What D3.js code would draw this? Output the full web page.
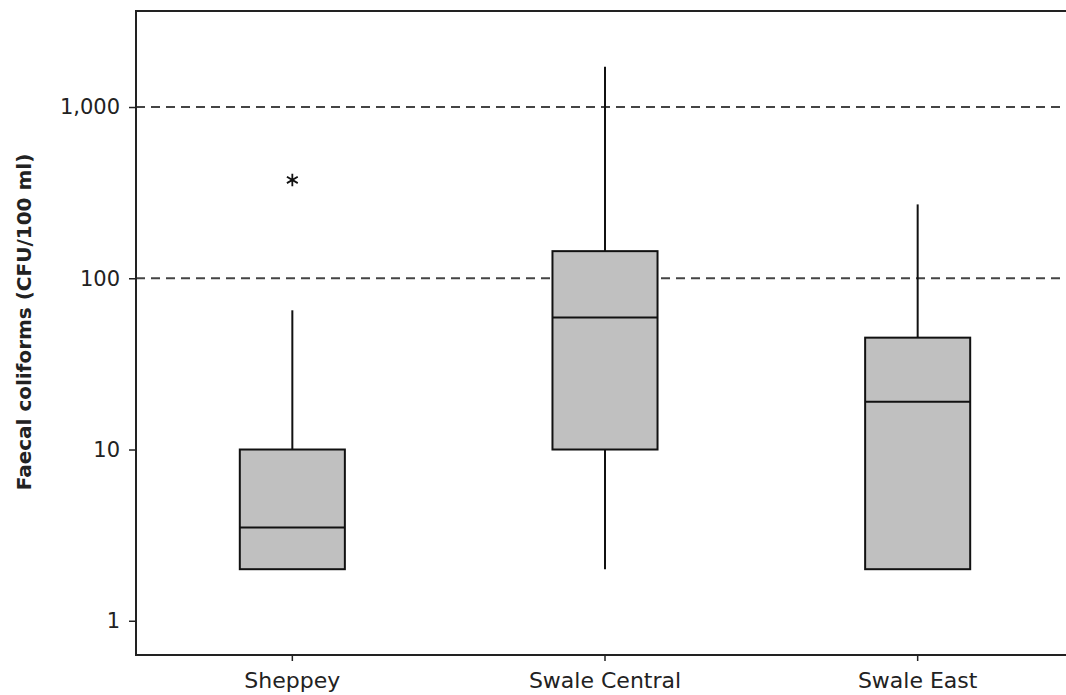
<!DOCTYPE html>
<html>
<head>
<meta charset="utf-8">
<script src="https://cdn.jsdelivr.net/npm/d3@7"></script>
<style>
  html, body { margin: 0; padding: 0; background: #fff; overflow: hidden; }
  svg { display: block; }
  text { font-family: "DejaVu Sans", Verdana, sans-serif; fill: #222; }
</style>
</head>
<body>
<svg id="chart" width="1066" height="695"></svg>
<script>
// Faecal coliform counts by site (CFU/100 ml), box-plot summaries
const sites = ["Sheppey", "Swale Central", "Swale East"];
const whiskerLow = [2, 2, 2];
const q1 = [2, 10, 2];
const median = [3.5, 59, 19];
const q3 = [10, 144, 45];
const whiskerHigh = [65, 1720, 270];
const outlierSites = ["Sheppey"];
const outlierValues = [375];
const guideValues = [100, 1000];
const yTickValues = [1, 10, 100, 1000];

const W = 1066, H = 695;
const plot = { left: 136, right: 1074, top: 11, bottom: 655 };

const svg = d3.select("#chart");

const x = d3.scaleBand()
  .domain(sites)
  .range([plot.left, plot.right])
  .paddingInner(0.664)
  .paddingOuter(0.332);

const y = d3.scaleLog()
  .domain([0.631, 3637])
  .range([plot.bottom, plot.top]);

const boxW = x.bandwidth();
const cx = s => x(s) + boxW / 2;

// Reference guide lines
svg.append("g")
  .selectAll("line")
  .data(guideValues)
  .join("line")
  .attr("x1", plot.left).attr("x2", W)
  .attr("y1", d => y(d)).attr("y2", d => y(d))
  .attr("stroke", "#444")
  .attr("stroke-width", 2)
  .attr("stroke-dasharray", "9,6");

// Boxes
const rows = sites.map((s, i) => ({
  site: s, lo: whiskerLow[i], q1: q1[i], med: median[i], q3: q3[i], hi: whiskerHigh[i]
}));

const box = svg.append("g").selectAll("g.box").data(rows).join("g").attr("class", "box");

box.append("line")
  .attr("x1", d => cx(d.site)).attr("x2", d => cx(d.site))
  .attr("y1", d => y(d.q3)).attr("y2", d => y(d.hi))
  .attr("stroke", "#111").attr("stroke-width", 2);

box.append("line")
  .attr("x1", d => cx(d.site)).attr("x2", d => cx(d.site))
  .attr("y1", d => y(d.q1)).attr("y2", d => y(d.lo))
  .attr("stroke", "#111").attr("stroke-width", 2);

box.append("rect")
  .attr("x", d => x(d.site))
  .attr("width", boxW)
  .attr("y", d => y(d.q3))
  .attr("height", d => y(d.q1) - y(d.q3))
  .attr("fill", "#c0c0c0")
  .attr("stroke", "#111")
  .attr("stroke-width", 2);

box.append("line")
  .attr("x1", d => x(d.site)).attr("x2", d => x(d.site) + boxW)
  .attr("y1", d => y(d.med)).attr("y2", d => y(d.med))
  .attr("stroke", "#111").attr("stroke-width", 2);

// Outliers
svg.append("g")
  .selectAll("path")
  .data(outlierSites.map((s, i) => ({ site: s, v: outlierValues[i] })))
  .join("path")
  .attr("transform", d => `translate(${cx(d.site)},${y(d.v)})`)
  .attr("d", d3.symbol(d3.symbolAsterisk, 110))
  .attr("fill", "none")
  .attr("stroke", "#111")
  .attr("stroke-width", 1.8);

// Frame: left, top and bottom edges (right edge runs past the page)
const frame = svg.append("g").attr("stroke", "#222").attr("stroke-width", 2);
frame.append("line").attr("x1", plot.left).attr("x2", plot.left)
  .attr("y1", plot.top - 1).attr("y2", plot.bottom + 1);
frame.append("line").attr("x1", plot.left).attr("x2", W)
  .attr("y1", plot.top).attr("y2", plot.top);
frame.append("line").attr("x1", plot.left).attr("x2", W)
  .attr("y1", plot.bottom).attr("y2", plot.bottom);

// Y axis
const yAxis = svg.append("g")
  .attr("transform", `translate(${plot.left},0)`)
  .call(d3.axisLeft(y)
    .tickValues(yTickValues)
    .tickFormat(d3.format(",d"))
    .tickSize(7)
    .tickPadding(9));
yAxis.select(".domain").remove();
yAxis.selectAll(".tick line").attr("stroke", "#222").attr("stroke-width", 1.5);
yAxis.selectAll("text")
  .style("font-size", "21px")
  .style("font-family", "\"DejaVu Sans\", Verdana, sans-serif")
  .attr("fill", "#222");

// X axis
const xAxis = svg.append("g")
  .attr("transform", `translate(0,${plot.bottom})`)
  .call(d3.axisBottom(x).tickSize(6).tickPadding(11));
xAxis.select(".domain").remove();
xAxis.selectAll(".tick line").attr("stroke", "#222").attr("stroke-width", 1.5);
xAxis.selectAll("text")
  .style("font-size", "22px")
  .style("font-family", "\"DejaVu Sans\", Verdana, sans-serif")
  .attr("fill", "#222");

// Y axis title
svg.append("text")
  .attr("transform", `translate(31,322) rotate(-90)`)
  .attr("text-anchor", "middle")
  .style("font-size", "20px")
  .style("font-weight", "bold")
  .text("Faecal coliforms (CFU/100 ml)");
</script>
</body>
</html>
